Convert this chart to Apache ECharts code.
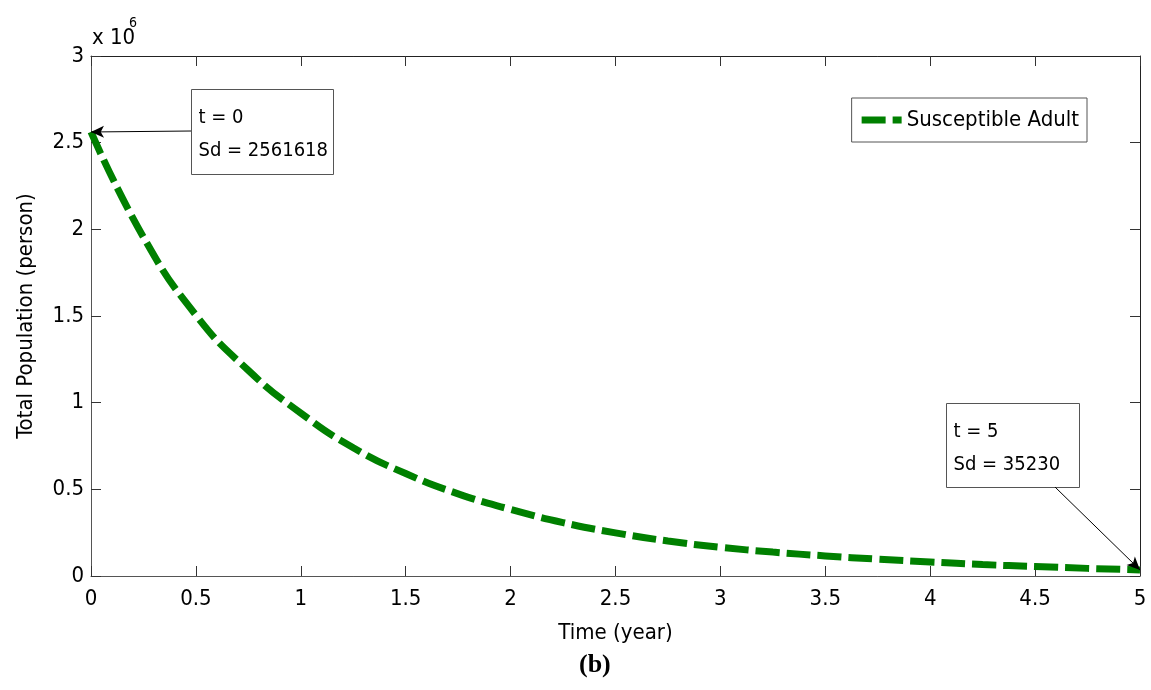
<!DOCTYPE html>
<html>
<head>
<meta charset="utf-8">
<script src="https://cdn.jsdelivr.net/npm/echarts@6/dist/echarts.min.js"></script>
<style>
  html, body { margin: 0; padding: 0; background: #fff; }
  #chart { width: 1151px; height: 690px; }
</style>
</head>
<body>
<div id="chart"></div>
<script>
// time (year) and susceptible adult population
const timeYears = [0, 0.25, 0.5, 0.75, 1, 1.25, 1.5, 1.75, 2, 2.25, 2.5,
  2.75, 3, 3.25, 3.5, 3.75, 4, 4.25, 4.5, 4.75, 5]
const susceptibleAdult = [2561618, 1955000, 1505000, 1186000, 940000, 740000,
  591000, 474000, 384000, 308000, 249000, 202000, 166000, 138000, 116000,
  97000, 81000, 66000, 55000, 44000, 35230]
const seriesName = 'Susceptible Adult'
const axisFont = '"Liberation Sans Narrow", "DejaVu Sans Condensed", "Roboto", sans-serif'

const firstIdx = 0
const lastIdx = timeYears.length - 1

const chart = echarts.init(document.getElementById('chart'))

// annotation box (text + frame), arrow is a markLine on the series
function boxGraphic(left, top, w, h, t, sd) {
  return {
    type: 'group',
    left: left,
    top: top,
    children: [
      { type: 'rect', shape: { x: 0, y: 0, width: w, height: h },
        style: { fill: '#fff', stroke: '#555', lineWidth: 1 } },
      { type: 'text', x: 7, y: 18,
        style: { text: 't = ' + t, font: '20px ' + axisFont, fill: '#000' } },
      { type: 'text', x: 7, y: 51,
        style: { text: 'Sd = ' + sd, font: '20px ' + axisFont, fill: '#000' } }
    ]
  }
}

const boxAxis = (pos) => ({
  type: 'value', min: 0, position: pos,
  axisLine: { show: true, onZero: false, lineStyle: { color: '#222' } },
  axisTick: { show: true, inside: true, length: 10, lineStyle: { color: '#333' } },
  axisLabel: { show: false },
  splitLine: { show: false }
})

const option = {
  animation: false,
  textStyle: { fontFamily: axisFont },
  grid: { left: 91, right: 11, top: 56, bottom: 114 },
  legend: {
    data: [{ name: seriesName, icon: 'path://M0,0 H24 V7 H0 Z M31,0 H40 V7 H31 Z' }],
    right: 64,
    top: 98,
    backgroundColor: '#fff',
    borderColor: '#555',
    borderWidth: 1,
    borderRadius: 0,
    padding: [11, 8, 11, 10],
    itemWidth: 40,
    itemHeight: 7,
    itemGap: 4,
    textStyle: { fontSize: 22, color: '#000', fontFamily: axisFont }
  },
  xAxis: [
    {
      type: 'value', min: 0, max: 5, interval: 0.5,
      name: 'Time (year)', nameLocation: 'middle', nameGap: 46,
      nameTextStyle: { fontSize: 22, color: '#000' },
      axisLine: { show: true, onZero: false, lineStyle: { color: '#555' } },
      axisTick: { show: true, inside: true, length: 10, lineStyle: { color: '#333' } },
      axisLabel: { fontSize: 22, color: '#000', margin: 12 },
      splitLine: { show: false }
    },
    Object.assign(boxAxis('top'), { max: 5, interval: 0.5 })
  ],
  yAxis: [
    {
      type: 'value', min: 0, max: 3000000, interval: 500000,
      name: 'Total Population (person)', nameLocation: 'middle', nameGap: 54,
      nameTextStyle: { fontSize: 22, color: '#000' },
      axisLine: { show: true, onZero: false, lineStyle: { color: '#555' } },
      axisTick: { show: true, inside: true, length: 10, lineStyle: { color: '#333' } },
      axisLabel: {
        fontSize: 22, color: '#000', margin: 7,
        formatter: v => String(v / 1e6)
      },
      splitLine: { show: false }
    },
    Object.assign(boxAxis('right'), { max: 3000000, interval: 500000 })
  ],
  series: [
    {
      name: seriesName,
      type: 'line',
      data: timeYears.map((t, i) => [t, susceptibleAdult[i]]),
      smooth: true,
      symbol: 'none',
      clip: false,
      lineStyle: { color: '#008000', width: 7, type: [24, 7] },
      itemStyle: { color: '#008000' },
      markLine: {
        silent: true,
        symbol: ['arrow', 'none'],
        symbolSize: [9, 13],
        label: { show: false },
        lineStyle: { color: '#000', width: 1, type: 'solid' },
        data: [
          [{ coord: [timeYears[firstIdx], susceptibleAdult[firstIdx]] }, { x: 191, y: 131 }],
          [{ coord: [timeYears[lastIdx], susceptibleAdult[lastIdx]] }, { x: 1055, y: 487 }]
        ]
      }
    }
  ],
  graphic: [
    { type: 'text', left: 92, top: 27,
      style: { text: 'x 10', font: '22px ' + axisFont, fill: '#000' } },
    { type: 'text', left: 129, top: 16,
      style: { text: '6', font: '14px ' + axisFont, fill: '#000' } },
    boxGraphic(191, 89, 142, 85, timeYears[firstIdx], susceptibleAdult[firstIdx]),
    boxGraphic(946, 403, 133, 84, timeYears[lastIdx], susceptibleAdult[lastIdx]),
    { type: 'text', left: 579, top: 652,
      style: { text: '(b)', font: 'bold 26px "Liberation Serif", "DejaVu Serif", serif', fill: '#000' } }
  ]
}

chart.setOption(option)
</script>
</body>
</html>
